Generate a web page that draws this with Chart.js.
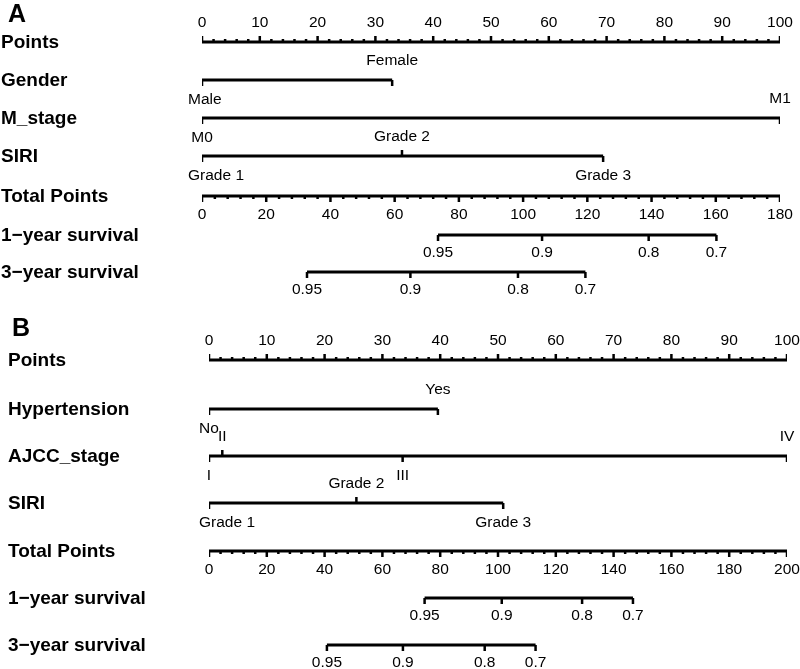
<!DOCTYPE html>
<html>
<head>
<meta charset="utf-8">
<script src="https://cdn.jsdelivr.net/npm/chart.js@4.4.1/dist/chart.umd.min.js"></script>
<style>
  body { margin: 0; background: #fff; }
  .panel { position: absolute; left: 0; width: 800px; }
  #wrapA { top: 0; height: 305px; }
  #wrapB { top: 305px; height: 364px; }
</style>
</head>
<body>
<div class="panel" id="wrapA"><canvas id="chartA"></canvas></div>
<div class="panel" id="wrapB"><canvas id="chartB"></canvas></div>
<script>
// ---- shared tick labels ----
const pointTicks = [0, 10, 20, 30, 40, 50, 60, 70, 80, 90, 100];
const survLabels = ['0.95', '0.9', '0.8', '0.7'];

// ---- panel A ----
const genderLevels = ['Male', 'Female'];
const genderPoints = [0, 32.9];
const mStageLevels = ['M0', 'M1'];
const mStagePoints = [0, 100];
const siriLevelsA = ['Grade 1', 'Grade 2', 'Grade 3'];
const siriPointsA = [0, 34.6, 69.4];
const totalTicksA = [0, 20, 40, 60, 80, 100, 120, 140, 160, 180];
const surv1TotalA = [73.5, 105.9, 139.1, 160.2];
const surv3TotalA = [32.7, 64.9, 98.4, 119.4];

// ---- panel B ----
const hyperLevels = ['No', 'Yes'];
const hyperPoints = [0, 39.6];
const ajccLevels = ['I', 'II', 'III', 'IV'];
const ajccPoints = [0, 2.3, 33.5, 100];
const siriLevelsB = ['Grade 1', 'Grade 2', 'Grade 3'];
const siriPointsB = [0, 25.5, 50.9];
const totalTicksB = [0, 20, 40, 60, 80, 100, 120, 140, 160, 180, 200];
const surv1TotalB = [74.6, 101.3, 129.1, 146.7];
const surv3TotalB = [40.8, 67.1, 95.4, 113.0];

const FONT = '"Liberation Sans", Arial, Helvetica, sans-serif';
const GAP = { x: null, y: null };

// Builds one nomogram panel
function buildPanel(canvasId, height, cfg) {
    const lines = [];   // axis lines
    const ticks = [];   // tick marks
    const texts = [];   // labels drawn by the plugin

    function addLine(axis, x0, x1, y) {
        lines.push({ axis, pts: [{ x: x0, y }, { x: x1, y }] });
    }
    function addTick(axis, x, y, len) {
        ticks.push({ axis, pts: [{ x, y }, { x, y: y + len }] });
    }

    const r = cfg.rows;
    cfg.rowNames.forEach((name, i) => {
        texts.push({ text: name, px: cfg.nameX, y: r[i] + 1, font: 'bold 19px ' + FONT, align: 'left' });
    });

    // Points axis (labels and ticks above)
    addLine('x', 0, 100, r[0]);
    for (let v = 0; v <= 100; v += 2) {
        addTick('x', v, r[0], pointTicks.includes(v) ? -6 : -3);
    }
    pointTicks.forEach(v => texts.push({ text: String(v), axis: 'x', v, y: r[0] - 19 }));

    // Categorical predictors, labels alternate below / above
    cfg.factors.forEach((f, k) => {
        const y = r[k + 1];
        addLine('x', Math.min(...f.points), Math.max(...f.points), y);
        f.points.forEach((p, j) => {
            const above = j % 2 === 1;
            const isEnd = j === 0 || j === f.points.length - 1;
            addTick('x', p, y, (above && !isEnd) ? -6 : 6);
            texts.push({ text: f.levels[j], axis: 'x', v: p, y: y + (above ? -19 : 20), clampLeft: cfg.clampLeft });
        });
    });

    // Total points axis (labels and ticks below)
    const tRow = r[cfg.factors.length + 1];
    const tTicks = cfg.totalTicks;
    const tMax = tTicks[tTicks.length - 1];
    addLine('xt', 0, tMax, tRow);
    for (let v = 0; v <= tMax; v += 4) {
        addTick('xt', v, tRow, tTicks.includes(v) ? 6 : 3);
    }
    tTicks.forEach(v => texts.push({ text: String(v), axis: 'xt', v, y: tRow + 19 }));

    // Survival axes
    cfg.survival.forEach((vals, k) => {
        const y = r[cfg.factors.length + 2 + k];
        addLine('xt', Math.min(...vals), Math.max(...vals), y);
        vals.forEach((v, j) => {
            addTick('xt', v, y, 6);
            texts.push({ text: survLabels[j], axis: 'xt', v, y: y + 18 });
        });
    });

    texts.push({ text: cfg.letter, px: cfg.letterPos[0], y: cfg.letterPos[1], font: 'bold 25px ' + FONT });

    function toDataset(list, axis, width) {
        const data = [];
        list.filter(s => s.axis === axis).forEach(s => { data.push(...s.pts, GAP); });
        return {
            data, xAxisID: axis, yAxisID: 'y',
            borderColor: '#000', borderWidth: width, pointRadius: 0,
            showLine: true, spanGaps: false, fill: false, tension: 0,
            borderCapStyle: 'butt', borderJoinStyle: 'miter'
        };
    }

    const textPlugin = {
        id: 'nomoText',
        afterDatasetsDraw(chart) {
            const ctx = chart.ctx;
            ctx.save();
            ctx.fillStyle = '#000';
            ctx.textBaseline = 'middle';
            texts.forEach(t => {
                ctx.font = t.font || ('15.5px ' + FONT);
                let x = t.px !== undefined ? t.px : chart.scales[t.axis].getPixelForValue(t.v);
                if (t.align === 'left') {
                    ctx.textAlign = 'left';
                } else {
                    ctx.textAlign = 'center';
                    if (t.clampLeft !== undefined) {
                        const w = ctx.measureText(t.text).width;
                        const minLeft = chart.scales.x.getPixelForValue(0) - t.clampLeft;
                        if (x - w / 2 < minLeft) x = minLeft + w / 2;
                    }
                }
                ctx.fillText(t.text, x, t.y);
            });
            ctx.restore();
        }
    };

    new Chart(document.getElementById(canvasId), {
        type: 'line',
        data: {
            datasets: [
                toDataset(lines, 'x', 3), toDataset(lines, 'xt', 3),
                toDataset(ticks, 'x', 2.5), toDataset(ticks, 'xt', 2.5)
            ]
        },
        options: {
            responsive: true,
            maintainAspectRatio: false,
            animation: false,
            layout: { padding: { left: cfg.left, right: cfg.right, top: 0, bottom: 0 } },
            scales: {
                x: { type: 'linear', min: 0, max: 100, display: false },
                xt: { type: 'linear', min: 0, max: tMax, display: false },
                y: { type: 'linear', min: 0, max: height, reverse: true, display: false }
            },
            plugins: { legend: { display: false }, tooltip: { enabled: false } }
        },
        plugins: [textPlugin]
    });
}

buildPanel('chartA', 305, {
    letter: 'A', letterPos: [17, 15],
    left: 202, right: 20, nameX: 1, clampLeft: 14,
    rows: [42, 80, 118, 156, 196, 235, 272],
    rowNames: ['Points', 'Gender', 'M_stage', 'SIRI', 'Total Points', '1\u2212year survival', '3\u2212year survival'],
    factors: [
        { levels: genderLevels, points: genderPoints },
        { levels: mStageLevels, points: mStagePoints },
        { levels: siriLevelsA, points: siriPointsA }
    ],
    totalTicks: totalTicksA,
    survival: [surv1TotalA, surv3TotalA]
});

buildPanel('chartB', 364, {
    letter: 'B', letterPos: [21, 24],
    left: 209, right: 13, nameX: 8, clampLeft: 10,
    rows: [55, 104, 151, 198, 246, 293, 340],
    rowNames: ['Points', 'Hypertension', 'AJCC_stage', 'SIRI', 'Total Points', '1\u2212year survival', '3\u2212year survival'],
    factors: [
        { levels: hyperLevels, points: hyperPoints },
        { levels: ajccLevels, points: ajccPoints },
        { levels: siriLevelsB, points: siriPointsB }
    ],
    totalTicks: totalTicksB,
    survival: [surv1TotalB, surv3TotalB]
});
</script>
</body>
</html>
